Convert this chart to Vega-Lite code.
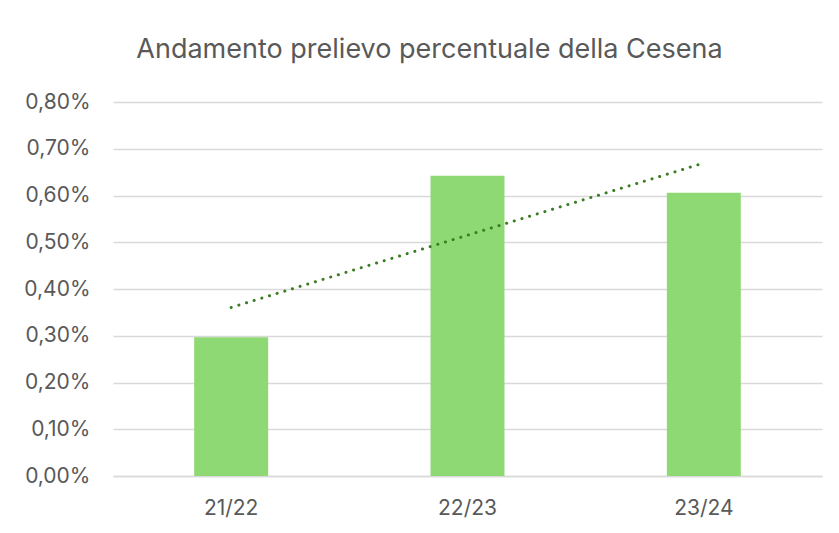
{
  "$schema": "https://vega.github.io/schema/vega-lite/v6.json",
  "autosize": "none",
  "width": 709,
  "height": 374,
  "padding": {"left": 113, "top": 102, "right": 17, "bottom": 57},
  "background": "white",
  "config": {
    "view": {"stroke": null},
    "font": "Inter",
    "locale": {"number": {"decimal": ",", "thousands": ".", "grouping": [3], "currency": ["€", ""]}}
  },
  "title": {
    "text": "Andamento prelievo percentuale della Cesena",
    "fontSize": 27,
    "fontWeight": "normal",
    "color": "#595959",
    "anchor": "middle",
    "frame": "group",
    "dx": -38,
    "offset": 27
  },
  "data": {
    "values": [
      {"stagione": "21/22", "prelievo": 0.00297, "tendenza": 0.003605},
      {"stagione": "22/23", "prelievo": 0.00642, "tendenza": 0.00515},
      {"stagione": "23/24", "prelievo": 0.00606, "tendenza": 0.006695}
    ]
  },
  "encoding": {
    "x": {
      "field": "stagione",
      "type": "nominal",
      "sort": null,
      "title": null,
      "scale": {"paddingInner": 0, "paddingOuter": 0},
      "axis": {
        "labelAngle": 0,
        "labelFontSize": 21,
        "labelColor": "#595959",
        "labelPadding": 21,
        "ticks": false,
        "domain": true,
        "domainColor": "#d9d9d9",
        "domainWidth": 1.5,
        "grid": false
      }
    }
  },
  "layer": [
    {
      "mark": {"type": "bar", "color": "#8ED973", "width": {"band": 0.313}},
      "encoding": {
        "y": {
          "field": "prelievo",
          "type": "quantitative",
          "title": null,
          "scale": {"domain": [0, 0.008], "nice": false},
          "axis": {
            "values": [0, 0.001, 0.002, 0.003, 0.004, 0.005, 0.006, 0.007, 0.008],
            "format": ".2%",
            "labelFontSize": 21,
            "labelColor": "#595959",
            "labelPadding": 23,
            "ticks": false,
            "domain": false,
            "gridColor": "#d9d9d9",
            "gridWidth": 1.5
          }
        }
      }
    },
    {
      "mark": {"type": "line", "color": "#3B7D23", "strokeWidth": 3, "strokeDash": [0.1, 7.9], "strokeCap": "round"},
      "encoding": {
        "y": {"field": "tendenza", "type": "quantitative"}
      }
    }
  ]
}
